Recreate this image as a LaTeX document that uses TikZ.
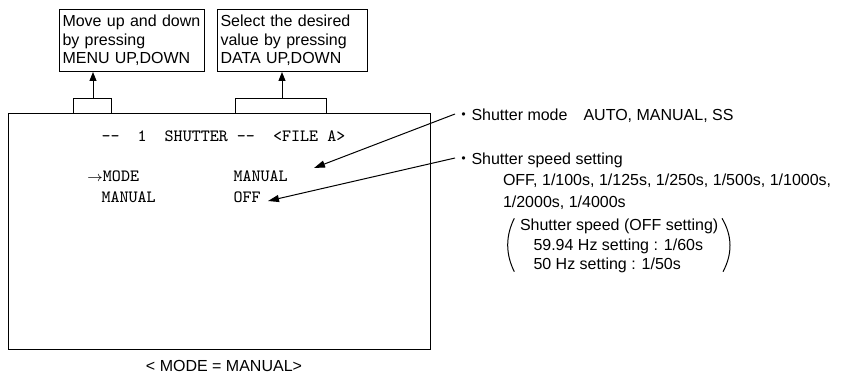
\documentclass[tikz,border=0pt]{standalone}
\usepackage{fontspec}
\setmainfont{Liberation Sans}
\newfontfamily\cjk{Noto Sans CJK JP}
\usetikzlibrary{arrows.meta}
\begin{document}
\begin{tikzpicture}[x=0.5pt, y=-0.5pt, line width=0.5pt,
        txt/.style={inner sep=0pt, anchor=base west, font=\fontsize{8}{9.25}\selectfont},
        scr/.style={inner sep=0pt, anchor=base west, font=\fontsize{8.6}{10}\selectfont\ttfamily},
        infobox/.style={draw, anchor=north west, align=left, inner xsep=1.5pt, inner ysep=0pt, minimum height=31pt, font=\fontsize{8}{9.25}\selectfont},
        tip/.style={-{Triangle[length=4.5pt,width=3.5pt]}},
        leader/.style={-{Triangle[length=5.5pt,width=3.5pt]}}]
            \useasboundingbox (0,0) rectangle (841,374);
            \node[infobox, text width=69.5pt] (menubox) at (59,9) {Move up and down\\by pressing\\MENU UP,DOWN};
            \node[infobox, text width=72pt] (databox) at (217,9) {Select the desired\\value by pressing\\DATA UP,DOWN};
            \node[draw, anchor=north west, inner sep=0pt, minimum width=211pt, minimum height=118pt] (screen) at (8,113) {};
            \draw (73,113) |- (111,99) -- (111,113);
            \draw (235,113) |- (326,99) -- (326,113);
            \coordinate (menutab) at (93,99);
            \coordinate (datatab) at (282,99);
            \draw[tip] (menutab) -- (menutab |- menubox.south);
            \draw[tip] (datatab) -- (datatab |- databox.south);
            \node[scr] (title) at (101,141.7) {-{}-\ \ 1\ \ SHUTTER -{}-\ \ <FILE A>};
            \node[scr] (modelabel) at (86.5,181.7) {{\fontsize{7.5}{9}\selectfont$\rightarrow$}MODE};
            \node[scr] (manlabel) at (101,202.3) {MANUAL};
            \node[scr] (modeval) at (233,181.7) {MANUAL};
            \node[scr] (offval) at (233,202.3) {OFF};
            \node[txt] (modenote) at (455,120) {{\cjk ・}Shutter mode\quad AUTO, MANUAL, SS};
            \node[txt] (speednote) at (455,164) {{\cjk ・}Shutter speed setting};
            \node[txt] (speedlist) at (502.5,185) {OFF, 1/100s, 1/125s, 1/250s, 1/500s, 1/1000s,};
            \node[txt] (speedlist2) at (502.5,207.3) {1/2000s, 1/4000s};
            \node[txt] (offhead) at (519.5,230) {Shutter speed (OFF setting)};
            \node[txt] (hz60) at (533,250) {59.94 Hz setting : 1/60s};
            \node[txt] (hz50) at (533,269) {50 Hz setting : 1/50s};
            \draw (514.3,218.3) .. controls (505.5,236) and (505.5,254) .. (514.3,271.7);
            \draw (722,218.3) .. controls (732.5,236) and (732.5,254) .. (723,271.7);
            \coordinate (modetip) at (314,168);
            \coordinate (offtip) at (268,201);
            \draw[leader] ([yshift=3pt]modenote.base west) -- (modetip);
            \draw[leader] ([yshift=3pt]speednote.base west) -- (offtip);
            \node[txt, anchor=base] (caption) at (224,371) {< MODE = MANUAL>};
        \end{tikzpicture}
\end{document}
